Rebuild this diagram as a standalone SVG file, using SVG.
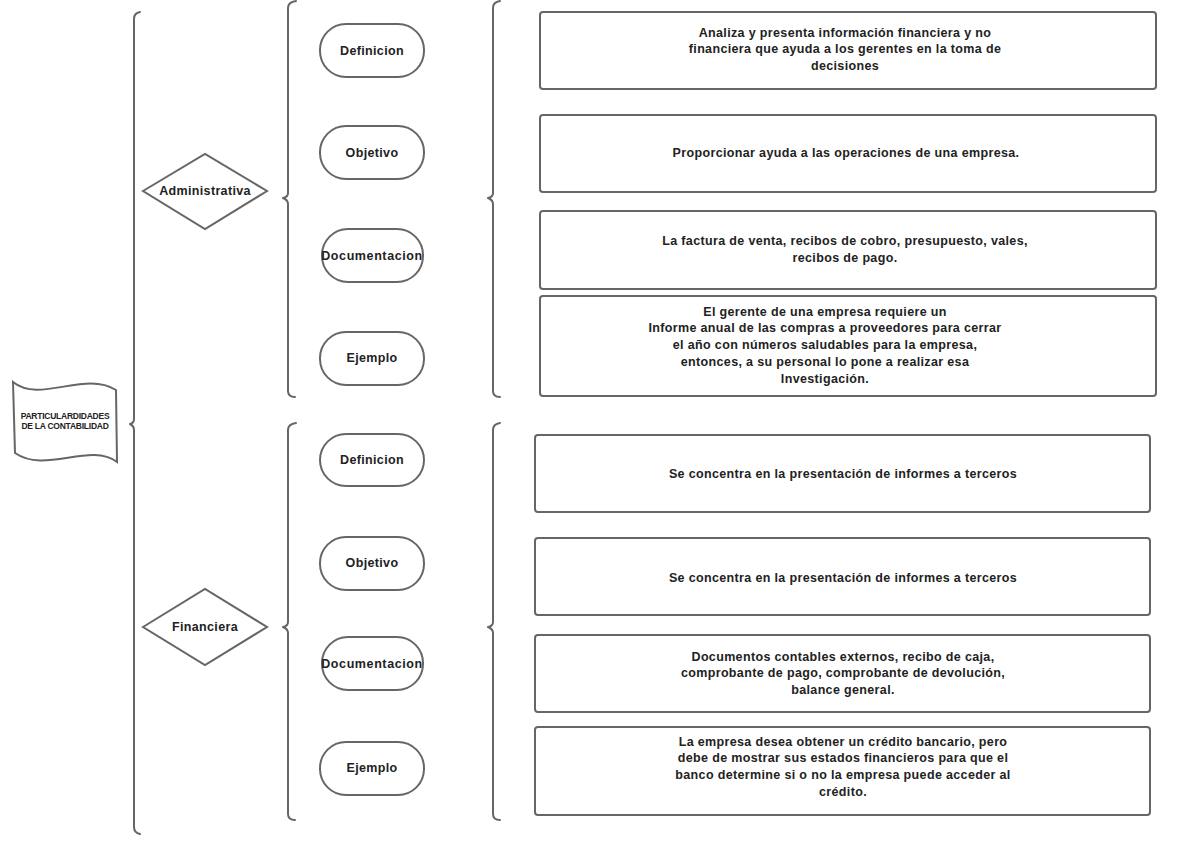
<svg xmlns="http://www.w3.org/2000/svg" width="1200" height="848" viewBox="0 0 1200 848">
<style>
.s{fill:#fff;stroke:#666;stroke-width:2}
.b{fill:none;stroke:#666;stroke-width:2;stroke-linejoin:round;stroke-linecap:round}
text{font-family:"Liberation Sans",Arial,sans-serif;fill:#222;text-anchor:middle;font-size:12.5px;font-weight:bold;letter-spacing:0.35px}
.f{font-size:8.5px;letter-spacing:-0.25px}
.d{letter-spacing:0.6px}
</style>
<rect width="1200" height="848" fill="#fff"/>
<g id="connectors">
<path class="b" d="M140,12 Q134,13 134,19 L134,419 Q134,423 130,424 Q134,426 134,430 L134,827 Q134,833 140,834"/>
<path class="b" d="M296,1 Q288,2 288,8 L288,193 Q288,197 283,198 Q288,200 288,204 L288,391 Q288,397 295,397"/>
<path class="b" d="M500,1 Q493,2 493,8 L493,193 Q493,197 488,198 Q493,200 493,204 L493,391 Q493,397 500,397"/>
<path class="b" d="M296,423 Q288,424 288,430 L288,622 Q288,626 283,627 Q288,629 288,633 L288,814 Q288,820 295,820"/>
<path class="b" d="M500,423 Q493,424 493,430 L493,622 Q493,626 488,627 Q493,629 493,633 L493,814 Q493,820 500,820"/>
</g>
<g id="root">
<path class="s" d="M13,382 C40,404 85,370 116,390 L117,462 C90,442 45,474 15,453 Z"/>
<text class="f" x="65" y="419">PARTICULARDIDADES</text>
<text class="f" x="65" y="429">DE LA CONTABILIDAD</text>
</g>
<g id="administrativa">
<polygon class="s" points="143,191 205,154 267,191 205,229"/>
<text x="205" y="195">Administrativa</text>
</g>
<g id="financiera">
<polygon class="s" points="143,627 205,589 267,627 205,665"/>
<text x="205" y="631">Financiera</text>
</g>
<g id="a-def"><rect class="s" x="320" y="24" width="104" height="53" rx="26"/><text x="372" y="55">Definicion</text></g>
<g id="a-obj"><rect class="s" x="320" y="126" width="104" height="53" rx="26"/><text x="372" y="157">Objetivo</text></g>
<g id="a-doc"><rect class="s" x="322" y="229" width="101" height="53" rx="26"/><text class="d" x="372" y="260">Documentacion</text></g>
<g id="a-eje"><rect class="s" x="320" y="332" width="104" height="53" rx="26"/><text x="372" y="362">Ejemplo</text></g>
<g id="f-def"><rect class="s" x="320" y="434" width="104" height="52" rx="26"/><text x="372" y="464">Definicion</text></g>
<g id="f-obj"><rect class="s" x="320" y="537" width="104" height="53" rx="26"/><text x="372" y="567">Objetivo</text></g>
<g id="f-doc"><rect class="s" x="322" y="637" width="101" height="53" rx="26"/><text class="d" x="372" y="668">Documentacion</text></g>
<g id="f-eje"><rect class="s" x="320" y="742" width="104" height="53" rx="26"/><text x="372" y="772">Ejemplo</text></g>
<g id="a-def-box"><rect class="s" x="540" y="12" width="616" height="77" rx="3"/>
<text x="845" y="37">Analiza y presenta información financiera y no</text>
<text x="845" y="53">financiera que ayuda a los gerentes en la toma de</text>
<text x="845" y="70">decisiones</text></g>
<g id="a-obj-box"><rect class="s" x="540" y="115" width="616" height="77" rx="3"/>
<text x="846" y="157">Proporcionar ayuda a las operaciones de una empresa.</text></g>
<g id="a-doc-box"><rect class="s" x="540" y="211" width="616" height="78" rx="3"/>
<text x="845" y="245">La factura de venta, recibos de cobro, presupuesto, vales,</text>
<text x="845" y="262">recibos de pago.</text></g>
<g id="a-eje-box"><rect class="s" x="540" y="296" width="616" height="100" rx="3"/>
<text x="825" y="316">El gerente de una empresa  requiere un</text>
<text x="825" y="332">Informe anual de las compras a proveedores para cerrar</text>
<text x="825" y="349">el año con números saludables para la empresa,</text>
<text x="825" y="366">entonces, a su personal lo pone a realizar esa</text>
<text x="825" y="383">Investigación.</text></g>
<g id="f-def-box"><rect class="s" x="535" y="435" width="615" height="77" rx="3"/>
<text x="843" y="478">Se concentra en la presentación de informes a terceros</text></g>
<g id="f-obj-box"><rect class="s" x="535" y="538" width="615" height="77" rx="3"/>
<text x="843" y="582">Se concentra en la presentación de informes a terceros</text></g>
<g id="f-doc-box"><rect class="s" x="535" y="635" width="615" height="77" rx="3"/>
<text x="843" y="661">Documentos contables externos, recibo de caja,</text>
<text x="843" y="677">comprobante de pago, comprobante de devolución,</text>
<text x="843" y="694">balance general.</text></g>
<g id="f-eje-box"><rect class="s" x="535" y="727" width="615" height="88" rx="3"/>
<text x="843" y="746">La empresa desea obtener un crédito bancario, pero</text>
<text x="843" y="762">debe de mostrar sus estados financieros para que el</text>
<text x="843" y="779">banco determine si o no la empresa puede acceder al</text>
<text x="843" y="796">crédito.</text></g>
</svg>
